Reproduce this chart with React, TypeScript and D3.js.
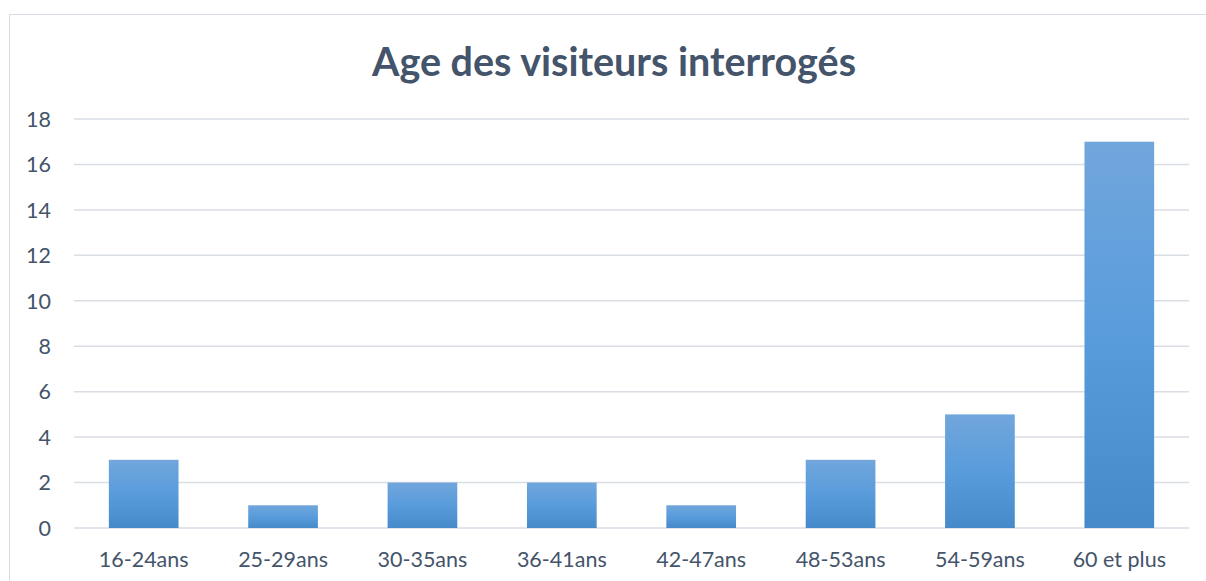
import React from "react";
import * as d3 from "d3";

const categories = ["16-24ans", "25-29ans", "30-35ans", "36-41ans", "42-47ans", "48-53ans", "54-59ans", "60 et plus"];
const values = [3, 1, 2, 2, 1, 3, 5, 17];
const yTicks = [0, 2, 4, 6, 8, 10, 12, 14, 16, 18];

const W = 1206;
const H = 581;
const margin = { top: 119, right: 17, bottom: 53, left: 74 };
const font = "Lato, 'Open Sans', sans-serif";
const textColor = "#44546A";

export default function App() {
  const x = d3
    .scaleBand()
    .domain(categories)
    .range([margin.left, W - margin.right])
    .paddingInner(0.5)
    .paddingOuter(0.25);
  const y = d3.scaleLinear().domain([0, 18]).range([H - margin.bottom, margin.top]);

  return (
    <svg
      width={W}
      height={H}
      style={{ position: "absolute", left: 0, top: 0 }}
      fontFamily={font}
    >
      <defs>
        <linearGradient id="barGrad" x1="0" y1="0" x2="0" y2="1">
          <stop offset="0%" stopColor="#71A6DC" />
          <stop offset="50%" stopColor="#599CDC" />
          <stop offset="100%" stopColor="#468ACA" />
        </linearGradient>
      </defs>
      <rect x={9.5} y={14.5} width={W + 20} height={H + 20} fill="#fff" stroke="#D9DEE6" />
      <text
        x={614}
        y={76}
        textAnchor="middle"
        fontSize={39.5}
        fontWeight="bold"
        fill={textColor}
      >
        Age des visiteurs interrogés
      </text>
      {yTicks.map((t) => (
        <g key={t}>
          <line
            x1={margin.left}
            x2={W - margin.right}
            y1={y(t)}
            y2={y(t)}
            stroke="#D9DDE4"
            strokeWidth={1.5}
          />
          <text
            x={51}
            y={y(t)}
            dy="0.36em"
            textAnchor="end"
            fontSize={21.5}
            fill={textColor}
          >
            {t}
          </text>
        </g>
      ))}
      {categories.map((c, i) => (
        <g key={c}>
          <rect
            x={x(c)}
            y={y(values[i])}
            width={x.bandwidth()}
            height={y(0) - y(values[i])}
            fill="url(#barGrad)"
          />
          <text
            x={(x(c) ?? 0) + x.bandwidth() / 2}
            y={567}
            textAnchor="middle"
            fontSize={21.5}
            fill={textColor}
          >
            {c}
          </text>
        </g>
      ))}
    </svg>
  );
}
